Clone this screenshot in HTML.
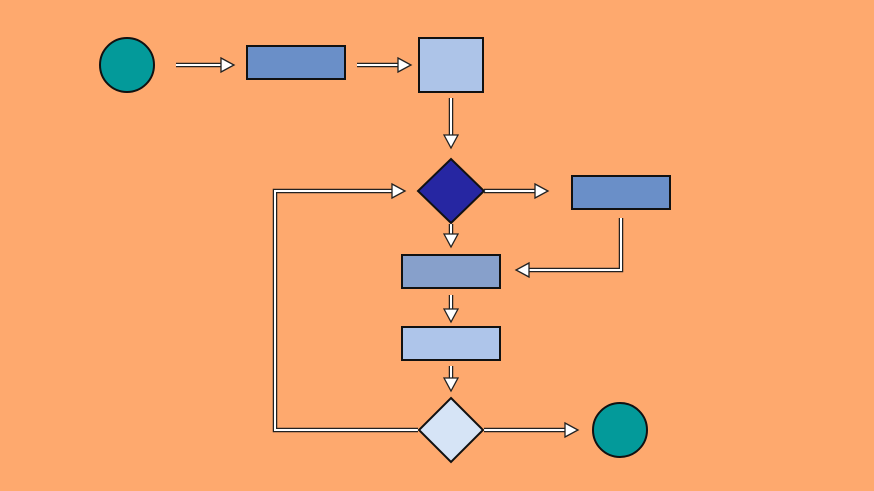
<!DOCTYPE html>
<html><head><style>html,body{margin:0;padding:0;background:#fea96e;}svg{display:block}</style></head>
<body>
<svg width="874" height="491" viewBox="0 0 874 491" xmlns="http://www.w3.org/2000/svg">
<rect width="874" height="491" fill="#fea96e"/>
<g fill="none" stroke-linejoin="miter">
<g stroke="#222" stroke-width="4.5">
<path d="M176 65H222"/><path d="M357 65H399"/><path d="M451 98V136"/>
<path d="M484 191H536"/><path d="M451 224V235"/><path d="M621 218V270H528"/>
<path d="M451 295V310"/><path d="M451 366V379"/><path d="M484 430H566"/>
<path d="M418 430H275V191H393"/>
</g>
<g stroke="#fff" stroke-width="2">
<path d="M176 65H222"/><path d="M357 65H399"/><path d="M451 98V136"/>
<path d="M484 191H536"/><path d="M451 224V235"/><path d="M621 218V270H528"/>
<path d="M451 295V310"/><path d="M451 366V379"/><path d="M484 430H566"/>
<path d="M418 430H275V191H393"/>
</g>
</g>
<g fill="#fff" stroke="#222" stroke-width="1.3">
<polygon points="221,58 234,65 221,72"/>
<polygon points="398,58 411,65 398,72"/>
<polygon points="444,135 451,148 458,135"/>
<polygon points="535,184 548,191 535,198"/>
<polygon points="444,234 451,247 458,234"/>
<polygon points="529,263 516,270 529,277"/>
<polygon points="444,309 451,322 458,309"/>
<polygon points="444,378 451,391 458,378"/>
<polygon points="565,423 578,430 565,437"/>
<polygon points="392,184 405,191 392,198"/>
</g>
<g stroke="#111" stroke-width="2">
<circle cx="127" cy="65" r="27" fill="#039a9a"/>
<rect x="247" y="46" width="98" height="33" fill="#6a8fc8"/>
<rect x="419" y="38" width="64" height="54" fill="#adc4e8"/>
<polygon points="451,159 484,191 451,223 418,191" fill="#2626a2"/>
<rect x="572" y="176" width="98" height="33" fill="#6a8fc8"/>
<rect x="402" y="255" width="98" height="33" fill="#87a0cb"/>
<rect x="402" y="327" width="98" height="33" fill="#aec5ea"/>
<polygon points="451,398 483,430 451,462 419,430" fill="#d6e4f6"/>
<circle cx="620" cy="430" r="27" fill="#039a9a"/>
</g>
</svg>
</body></html>
